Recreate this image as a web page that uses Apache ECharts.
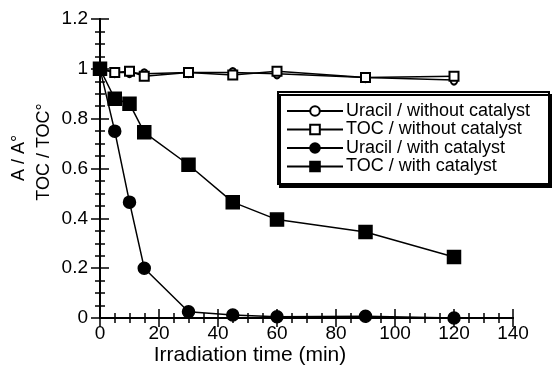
<!DOCTYPE html>
<html><head><meta charset="utf-8">
<script src="https://cdn.jsdelivr.net/npm/echarts@6/dist/echarts.min.js"></script>
<style>html,body{margin:0;padding:0;background:#fff}#c{width:554px;height:370px}</style>
</head><body><div id="c"></div>
<script>
const times = [0, 5, 10, 15, 30, 45, 60, 90, 120];
const uracilWithout = [1.0, 0.985, 0.985, 0.98, 0.985, 0.985, 0.98, 0.965, 0.955];
const tocWithout = [1.0, 0.985, 0.99, 0.97, 0.985, 0.975, 0.99, 0.965, 0.97];
const uracilWith = [1.0, 0.75, 0.465, 0.2, 0.025, 0.012, 0.005, 0.007, 0.0];
const tocWith = [1.0, 0.88, 0.86, 0.745, 0.615, 0.465, 0.395, 0.345, 0.245];
const seriesNames = ['Uracil / without catalyst', 'TOC / without catalyst', 'Uracil / with catalyst', 'TOC / with catalyst'];
const xTitle = 'Irradiation time (min)';
const yTitle1 = 'A / A°';
const yTitle2 = 'TOC / TOC°';

const FONT = 'Liberation Sans, Arial, Helvetica, sans-serif';
const pairs = arr => times.map((t, i) => [t, arr[i]]);
const chart = echarts.init(document.getElementById('c'), null, {renderer: 'canvas'});

function axisCommon() {
  return {
    axisLine: {show: true, lineStyle: {color: '#000', width: 2}},
    axisTick: {show: true, inside: true, length: 9, lineStyle: {color: '#000', width: 1.5}},
    minorTick: {show: true, splitNumber: 4, length: 5, lineStyle: {color: '#000', width: 1.5}},
    splitLine: {show: false}
  };
}
const tickLabel = {color: '#000', fontSize: 19, fontFamily: FONT};

function mkSeries(name, data, symbol, size, z) {
  return {
    name, type: 'line', data: pairs(data), symbol, symbolSize: size, z,
    lineStyle: {color: '#000', width: 1.5},
    itemStyle: {color: '#000', borderColor: '#000', borderWidth: 1.5},
    emphasis: {disabled: true}, animation: false
  };
}

chart.setOption({
  animation: false,
  backgroundColor: '#fff',
  grid: {left: 100, right: 41, top: 19, bottom: 52, containLabel: false},
  xAxis: [
    Object.assign(axisCommon(), {type: 'value', min: 0, max: 140, interval: 20, position: 'bottom',
      axisLabel: Object.assign({margin: 6}, tickLabel)}),
    Object.assign(axisCommon(), {type: 'value', min: 0, max: 140, interval: 20, position: 'top',
      axisLabel: {show: false}})
  ],
  yAxis: [
    Object.assign(axisCommon(), {type: 'value', min: 0, max: 1.2, interval: 0.2, position: 'left',
      axisLabel: Object.assign({margin: 12, formatter: v => String(Math.round(v * 10) / 10)}, tickLabel)}),
    Object.assign(axisCommon(), {type: 'value', min: 0, max: 1.2, interval: 0.2, position: 'right',
      axisLabel: {show: false}})
  ],
  legend: {
    show: true, orient: 'vertical', left: 286, top: 102, z: 30,
    itemWidth: 56, itemHeight: 12, itemGap: 0.5, padding: 0,
    textStyle: {color: '#000', fontSize: 18, fontFamily: FONT, lineHeight: 16.5, padding: [0, 0, 0, -2]},
    data: seriesNames
  },
  graphic: [
    {type: 'rect', z: 20, shape: {x: 278, y: 92, width: 271, height: 92},
     style: {fill: '#fff', stroke: '#000', lineWidth: 2, shadowColor: '#000', shadowOffsetX: 2, shadowOffsetY: 3, shadowBlur: 0}},
    {type: 'text', z: 20, x: 250, y: 355, style: {text: xTitle, fill: '#000', font: '21px ' + FONT, align: 'center', verticalAlign: 'middle'}},
    {type: 'text', z: 20, x: 19, y: 158, rotation: Math.PI / 2, style: {text: yTitle1, fill: '#000', font: '18px ' + FONT, align: 'center', verticalAlign: 'middle'}},
    {type: 'text', z: 20, x: 44, y: 152, rotation: Math.PI / 2, style: {text: yTitle2, fill: '#000', font: '18px ' + FONT, align: 'center', verticalAlign: 'middle'}}
  ],
  series: [
    mkSeries(seriesNames[0], uracilWithout, 'emptyCircle', [7, 9], 3),
    mkSeries(seriesNames[1], tocWithout, 'emptyRect', 9, 4),
    mkSeries(seriesNames[2], uracilWith, 'circle', 12, 5),
    mkSeries(seriesNames[3], tocWith, 'rect', 13, 6)
  ]
});
</script></body></html>
